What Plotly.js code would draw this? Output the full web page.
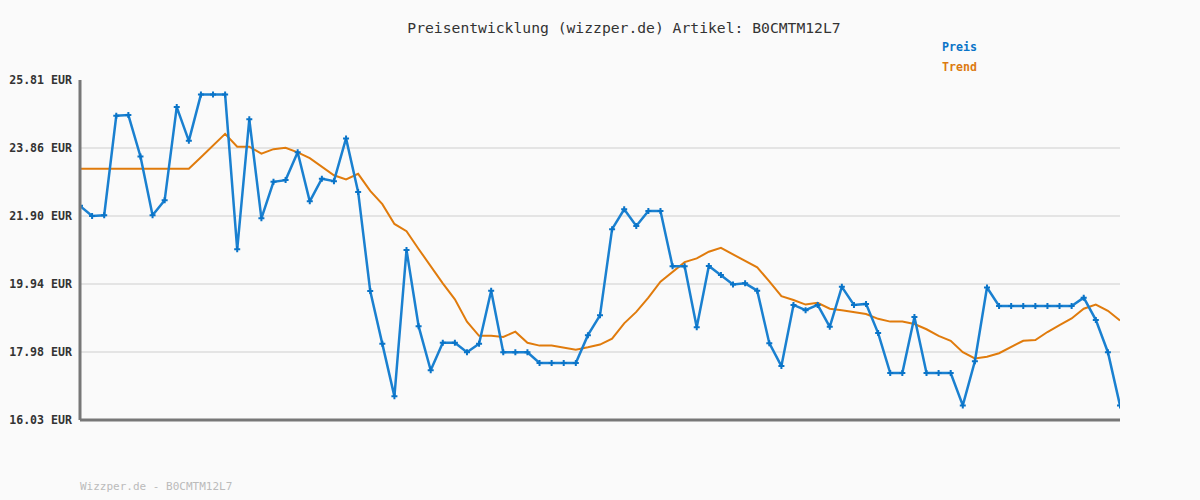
<!DOCTYPE html>
<html>
<head>
<meta charset="utf-8">
<script src="https://cdn.plot.ly/plotly-3.0.1.min.js"></script>
<style>html,body{margin:0;padding:0;background:#fafafa;}#chart{width:1200px;height:500px;}</style>
</head>
<body>
<div id="chart"></div>
<script>
const preis = [22.19,21.90,21.92,24.78,24.80,23.61,21.92,22.35,25.03,24.06,
  25.39,25.39,25.39,20.94,24.68,21.83,22.88,22.93,23.73,22.32,
  22.97,22.90,24.13,22.59,19.74,18.22,16.71,20.92,18.73,17.46,
  18.25,18.25,17.98,18.22,19.75,17.98,17.98,17.98,17.67,17.67,
  17.67,17.67,18.47,19.04,21.52,22.09,21.61,22.04,22.04,20.45,
  20.45,18.70,20.46,20.20,19.93,19.96,19.75,18.24,17.58,19.34,
  19.19,19.34,18.71,19.86,19.34,19.37,18.53,17.38,17.38,18.99,
  17.38,17.38,17.38,16.45,17.72,19.84,19.31,19.31,19.31,19.31,
  19.31,19.31,19.31,19.55,18.91,17.98,16.45];
const trend = [23.26,23.26,23.26,23.26,23.26,23.26,23.26,23.26,23.26,23.26,
  23.59,23.93,24.26,23.89,23.89,23.69,23.82,23.86,23.73,23.56,
  23.32,23.07,22.95,23.11,22.62,22.24,21.67,21.46,20.95,20.44,
  19.96,19.50,18.86,18.45,18.45,18.42,18.57,18.25,18.17,18.17,
  18.11,18.05,18.12,18.20,18.37,18.81,19.14,19.55,20.01,20.28,
  20.57,20.68,20.87,20.98,20.80,20.60,20.42,20.02,19.59,19.48,
  19.35,19.40,19.23,19.19,19.14,19.08,18.94,18.86,18.86,18.79,
  18.64,18.45,18.31,17.98,17.80,17.85,17.95,18.12,18.31,18.33,
  18.56,18.76,18.95,19.23,19.35,19.17,18.89];
const tickVals = [16.03,17.98,19.94,21.90,23.86,25.81];
const tickLabels = ["16.03 EUR","17.98 EUR","19.94 EUR","21.90 EUR","23.86 EUR","25.81 EUR"];
const titleText = "Preisentwicklung (wizzper.de) Artikel: B0CMTM12L7";
const footerText = "Wizzper.de - B0CMTM12L7";
const seriesNames = ["Preis","Trend"];

const idx = preis.map((_, i) => i);
const mono = '"DejaVu Sans Mono", "Liberation Mono", monospace';

const traces = [
  {x: idx, y: trend, type: 'scatter', mode: 'lines', name: seriesNames[1],
   line: {color: '#e07b0c', width: 2}, hoverinfo: 'skip'},
  {x: idx, y: preis, type: 'scatter', mode: 'lines+markers', name: seriesNames[0],
   line: {color: '#1a80d0', width: 2.5},
   marker: {symbol: 'cross', size: 5, color: '#0a74c8'}}
];

const layout = {
  width: 1200, height: 500,
  paper_bgcolor: '#fafafa', plot_bgcolor: '#fafafa',
  margin: {l: 80, r: 80, t: 80, b: 80},
  showlegend: false,
  title: {text: titleText, x: 0.52, xanchor: 'center', y: 0.944, yanchor: 'middle',
          font: {family: mono, size: 14.7, color: '#333'}},
  xaxis: {range: [0, preis.length - 1], showgrid: false, zeroline: false,
          showticklabels: false, ticks: '', showline: false, fixedrange: true},
  yaxis: {range: [16.03, 25.81], tickvals: tickVals, ticktext: tickLabels,
          showgrid: true, gridcolor: '#e4e4e4', gridwidth: 2, zeroline: false,
          showline: false, ticks: '', ticklabelstandoff: 7,
          tickfont: {family: mono, size: 11.6, color: '#333', weight: 'bold'}},
  shapes: [
    {type: 'line', xref: 'paper', yref: 'paper', x0: 0, x1: 0, y0: 0, y1: 1,
     line: {color: '#777', width: 3}},
    {type: 'line', xref: 'paper', yref: 'paper', x0: 0, x1: 1, y0: 0, y1: 0,
     line: {color: '#777', width: 3}}
  ],
  annotations: [
    {text: '<b>' + seriesNames[0] + '</b>', xref: 'paper', yref: 'paper', x: 0.827, y: 1.097,
     xanchor: 'left', yanchor: 'middle', showarrow: false,
     font: {family: mono, size: 11.6, color: '#0a74c8'}},
    {text: '<b>' + seriesNames[1] + '</b>', xref: 'paper', yref: 'paper', x: 0.827, y: 1.038,
     xanchor: 'left', yanchor: 'middle', showarrow: false,
     font: {family: mono, size: 11.6, color: '#dc7a10'}},
    {text: footerText, xref: 'paper', yref: 'paper', x: -0.002, y: -0.197,
     xanchor: 'left', yanchor: 'middle', showarrow: false,
     font: {family: mono, size: 11, color: '#bbb'}}
  ]
};

Plotly.newPlot('chart', traces, layout, {displayModeBar: false, staticPlot: true});
</script>
</body>
</html>
